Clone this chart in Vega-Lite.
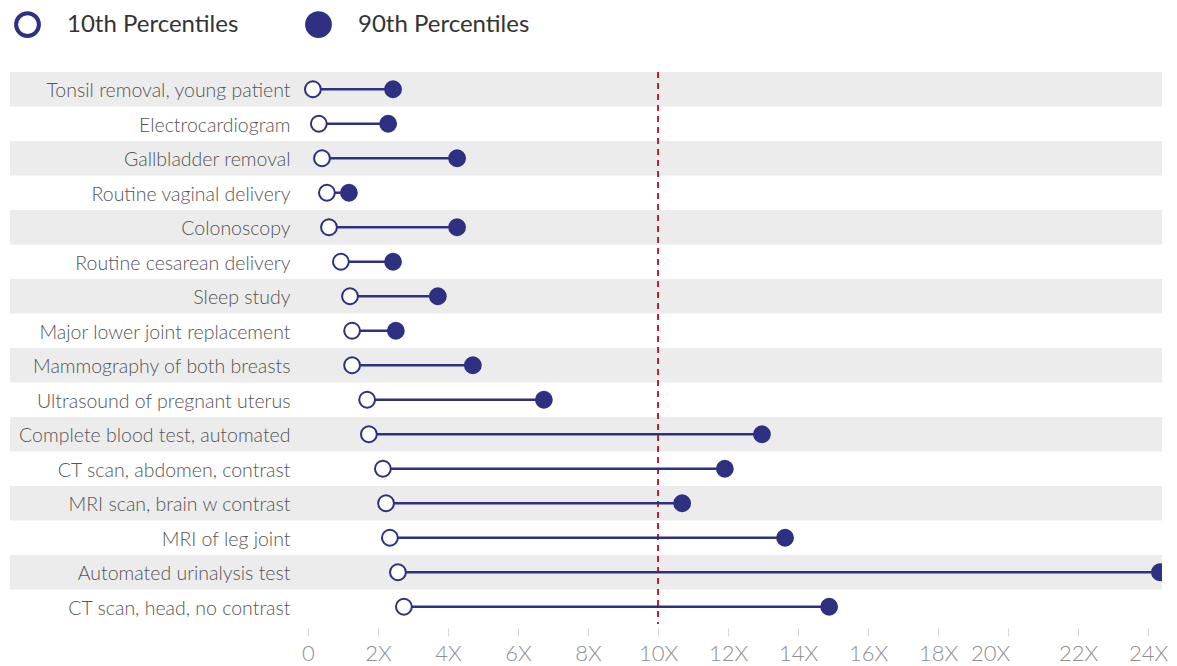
{
  "$schema": "https://vega.github.io/schema/vega-lite/v6.json",
  "autosize": {"type": "none"},
  "padding": {"left": 10, "top": 72, "right": 15, "bottom": 42},
  "width": 1152,
  "height": 552,
  "background": "white",
  "config": {"view": {"stroke": null}},
  "data": {
    "values": [
      {"name": "Tonsil removal, young patient", "rank": 1, "p10": 0.14, "p90": 2.43},
      {"name": "Electrocardiogram", "rank": 2, "p10": 0.31, "p90": 2.29},
      {"name": "Gallbladder removal", "rank": 3, "p10": 0.40, "p90": 4.26},
      {"name": "Routine vaginal delivery", "rank": 4, "p10": 0.54, "p90": 1.17},
      {"name": "Colonoscopy", "rank": 5, "p10": 0.60, "p90": 4.26},
      {"name": "Routine cesarean delivery", "rank": 6, "p10": 0.94, "p90": 2.43},
      {"name": "Sleep study", "rank": 7, "p10": 1.20, "p90": 3.71},
      {"name": "Major lower joint replacement", "rank": 8, "p10": 1.26, "p90": 2.51},
      {"name": "Mammography of both breasts", "rank": 9, "p10": 1.26, "p90": 4.71},
      {"name": "Ultrasound of pregnant uterus", "rank": 10, "p10": 1.69, "p90": 6.74},
      {"name": "Complete blood test, automated", "rank": 11, "p10": 1.74, "p90": 12.97},
      {"name": "CT scan, abdomen, contrast", "rank": 12, "p10": 2.14, "p90": 11.91},
      {"name": "MRI scan, brain w contrast ", "rank": 13, "p10": 2.23, "p90": 10.69},
      {"name": "MRI of leg joint", "rank": 14, "p10": 2.34, "p90": 13.63},
      {"name": "Automated urinalysis test", "rank": 15, "p10": 2.57, "p90": 24.34},
      {"name": "CT scan,  head, no contrast", "rank": 16, "p10": 2.74, "p90": 14.89}
    ]
  },
  "encoding": {
    "y": {
      "field": "name",
      "type": "nominal",
      "sort": {"field": "rank", "order": "ascending"},
      "scale": {"paddingInner": 0, "paddingOuter": 0},
      "axis": null
    }
  },
  "layer": [
    {
      "transform": [{"filter": "datum.rank % 2 == 1"}],
      "mark": {"type": "rect", "color": "#ececec"},
      "encoding": {
        "x": {
          "datum": -8.514,
          "type": "quantitative",
          "scale": {"domain": [-8.514, 24.4], "nice": false, "zero": false},
          "axis": {
            "values": [0, 2, 4, 6, 8, 10, 12, 14, 16, 18, 20, 22, 24],
            "labelExpr": "datum.value == 0 ? '0' : datum.value + 'X'",
            "domain": false,
            "grid": false,
            "title": null,
            "ticks": true,
            "tickColor": "#d6d6d6",
            "tickSize": 8,
            "tickWidth": 1,
            "offset": 4,
            "labelPadding": 7,
            "labelFont": "Lato",
            "labelFontWeight": 300,
            "labelFontSize": 22,
            "labelColor": "#8f8f8f",
            "labelOffset": {"condition": {"test": "datum.value === 20", "value": -18}, "value": 0}
          }
        },
        "x2": {"datum": 24.4}
      }
    },
    {
      "mark": {"type": "rule", "color": "#c8202f", "strokeDash": [6, 5], "strokeWidth": 1.5},
      "encoding": {"x": {"datum": 10, "type": "quantitative"}, "y": null}
    },
    {
      "mark": {"type": "rule", "color": "#2e3182", "strokeWidth": 2.5, "clip": true},
      "encoding": {
        "x": {"field": "p10", "type": "quantitative"},
        "x2": {"field": "p90"}
      }
    },
    {
      "transform": [{"fold": ["p10", "p90"], "as": ["pct", "value"]}],
      "mark": {"type": "point", "shape": "circle", "filled": true, "stroke": "#2e3182", "strokeWidth": 2, "size": 250, "opacity": 1, "clip": true},
      "encoding": {
        "x": {"field": "value", "type": "quantitative"},
        "fill": {
          "field": "pct",
          "type": "nominal",
          "scale": {"domain": ["p10", "p90"], "range": ["#ffffff", "#2e3182"]},
          "legend": {
            "orient": "none",
            "legendX": 4,
            "legendY": -61,
            "direction": "horizontal",
            "title": null,
            "padding": 0,
            "symbolType": "circle",
            "symbolSize": 520,
            "symbolStrokeWidth": 4,
            "symbolStrokeColor": "#2e3182",
            "labelExpr": "datum.label == 'p10' ? '10th Percentiles' : '90th Percentiles'",
            "labelFont": "Lato",
            "labelFontSize": 24,
            "labelColor": "#333333",
            "labelOffset": 26,
            "labelLimit": 300,
            "columnPadding": 60
          }
        }
      }
    },
    {
      "mark": {"type": "text", "align": "right", "baseline": "middle", "dy": 2, "font": "Lato", "fontWeight": 300, "fontSize": 19.5, "color": "#555555"},
      "encoding": {
        "x": {"datum": -0.5, "type": "quantitative"},
        "text": {"field": "name"}
      }
    }
  ]
}
